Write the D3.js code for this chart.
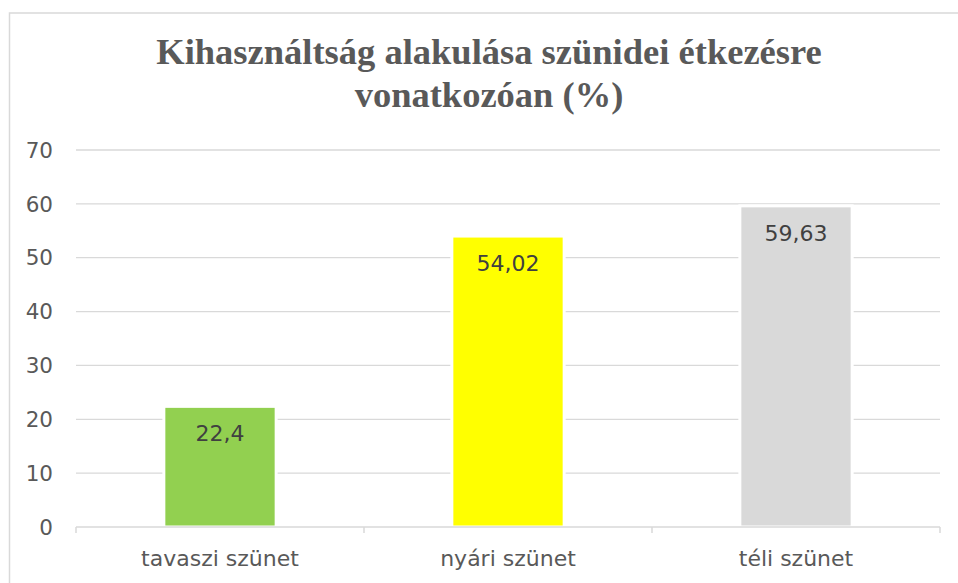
<!DOCTYPE html>
<html>
<head>
<meta charset="utf-8">
<script src="https://cdn.jsdelivr.net/npm/d3@7"></script>
<style>
  body { margin: 0; background: #fff; }
  svg { display: block; }
</style>
</head>
<body>
<div class="container"></div>
<script>
// data
const categories = ['tavaszi szünet', 'nyári szünet', 'téli szünet']
const values = [22.4, 54.02, 59.63]
const valueLabels = ['22,4', '54,02', '59,63']
const barColors = ['#92d050', '#ffff00', '#d9d9d9']
const yTicks = [0, 10, 20, 30, 40, 50, 60, 70]
const titleLines = ['Kihasználtság alakulása szünidei étkezésre', 'vonatkozóan (%)']

const width = 958, height = 583
const svg = d3.select('.container').append('svg')
    .attr('width', width).attr('height', height)

// chart frame (right and bottom edges fall outside the picture)
svg.append('rect')
    .attr('x', 9.5).attr('y', 13)
    .attr('width', 1000).attr('height', 700)
    .attr('fill', '#fff')
    .attr('stroke', '#d9d9d9').attr('stroke-width', 1.5)

const margin = {left: 76, right: 18, top: 150, bottom: 56}
const plotW = width - margin.left - margin.right
const x = d3.scaleBand()
    .domain(categories)
    .range([margin.left, margin.left + plotW])
    .paddingInner(0.61)
    .paddingOuter(0.305)
const y = d3.scaleLinear()
    .domain([0, 70])
    .range([527, 150])

// title
const title = svg.append('text')
    .attr('text-anchor', 'middle')
    .style('font-family', '"Liberation Serif", serif')
    .style('font-weight', 'bold')
    .style('font-size', '36.5px')
    .style('fill', '#595959')
title.selectAll('tspan')
    .data(titleLines)
    .enter().append('tspan')
    .attr('x', 489)
    .attr('y', (d, i) => 64 + i * 43)
    .text(d => d)

// gridlines
svg.append('g')
    .selectAll('line')
    .data(yTicks.filter(d => d > 0))
    .enter().append('line')
    .attr('x1', margin.left).attr('x2', margin.left + plotW)
    .attr('y1', d => y(d)).attr('y2', d => y(d))
    .attr('stroke', '#d9d9d9').attr('stroke-width', 1.3)

// y labels
svg.append('g')
    .selectAll('text')
    .data(yTicks)
    .enter().append('text')
    .attr('x', 53)
    .attr('y', d => y(d))
    .attr('dy', '0.36em')
    .attr('text-anchor', 'end')
    .style('font-family', '"DejaVu Sans", sans-serif')
    .style('font-size', '21.5px')
    .style('fill', '#595959')
    .text(d => d)

// bars
svg.append('g')
    .selectAll('rect')
    .data(values)
    .enter().append('rect')
    .attr('x', (d, i) => x(categories[i]))
    .attr('width', x.bandwidth())
    .attr('y', d => y(d))
    .attr('height', d => y(0) - y(d))
    .attr('fill', (d, i) => barColors[i])
    .attr('stroke', '#fff').attr('stroke-width', 3)

// value labels
svg.append('g')
    .selectAll('text')
    .data(values)
    .enter().append('text')
    .attr('x', (d, i) => x(categories[i]) + x.bandwidth() / 2)
    .attr('y', d => y(d) + 35)
    .attr('text-anchor', 'middle')
    .style('font-family', '"DejaVu Sans", sans-serif')
    .style('font-size', '22px')
    .style('fill', '#404040')
    .text((d, i) => valueLabels[i])

// x axis
const xAxis = d3.axisBottom(x).tickSize(0).tickPadding(0)
const ax = svg.append('g')
    .attr('transform', `translate(0,${y(0)})`)
    .call(xAxis)
ax.select('.domain').remove()
ax.append('line')
    .attr('x1', margin.left).attr('x2', margin.left + plotW)
    .attr('stroke', '#d9d9d9').attr('stroke-width', 1.5)
ax.selectAll('.bound')
    .data(d3.range(categories.length + 1))
    .enter().append('line')
    .attr('class', 'bound')
    .attr('x1', i => margin.left + i * x.step())
    .attr('x2', i => margin.left + i * x.step())
    .attr('y1', 0).attr('y2', 6)
    .attr('stroke', '#d9d9d9').attr('stroke-width', 1.5)
ax.selectAll('.tick text')
    .attr('y', 39)
    .attr('dy', null)
    .style('font-family', '"DejaVu Sans", sans-serif')
    .style('font-size', '22px')
    .style('fill', '#595959')
</script>
</body>
</html>
